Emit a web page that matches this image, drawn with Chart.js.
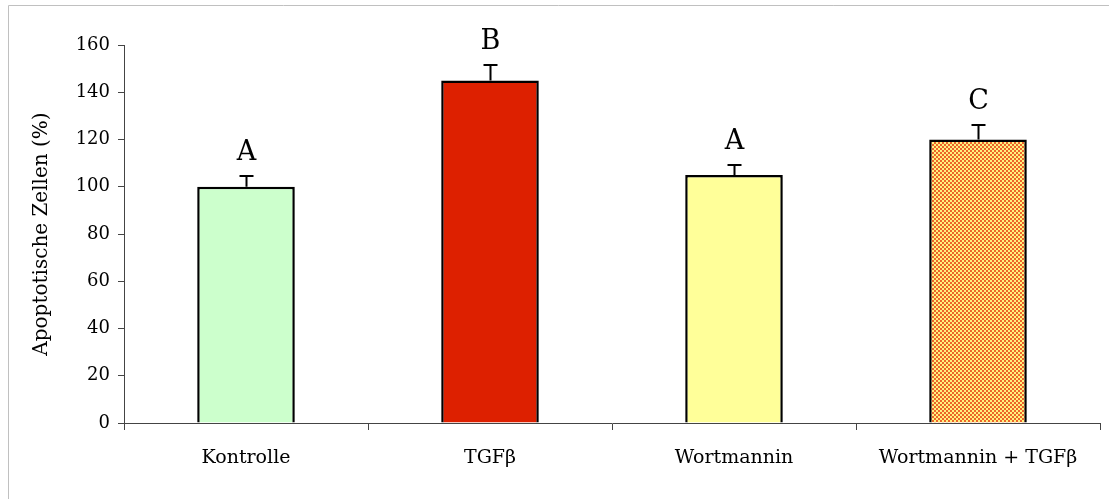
<!DOCTYPE html>
<html>
<head>
<meta charset="utf-8">
<script src="https://cdn.jsdelivr.net/npm/chart.js"></script>
<style>
  body { margin: 0; background: #fff; }
</style>
</head>
<body>
<canvas id="myChart" width="1109" height="499"></canvas>
<script>
// datos del gráfico
const categorias = ['Kontrolle', 'TGFβ', 'Wortmannin', 'Wortmannin + TGFβ'];
const valores = [100, 145, 105, 120];
const errores = [4.5, 6.5, 4, 6];
const letras = ['A', 'B', 'A', 'C'];
const ticksY = [0, 20, 40, 60, 80, 100, 120, 140, 160];

const fuente = 'DejaVu Serif';

// trama de puntos rojos sobre amarillo para la última barra
function trama() {
    const c = document.createElement('canvas');
    c.width = 4;
    c.height = 4;
    const g = c.getContext('2d');
    g.fillStyle = '#fff27f';
    g.fillRect(0, 0, 4, 4);
    g.fillStyle = '#e62a08';
    g.beginPath();
    g.arc(1, 1, 0.95, 0, Math.PI * 2);
    g.arc(3, 3, 0.95, 0, Math.PI * 2);
    g.fill();
    return g.createPattern(c, 'repeat');
}

const colores = ['#ccffcc', '#dd2000', '#ffff99', null];
colores[3] = trama();

// marco gris exterior
const marco = {
    id: 'marco',
    beforeDraw(chart) {
        const ctx = chart.ctx;
        ctx.save();
        ctx.strokeStyle = '#c0c0c0';
        ctx.lineWidth = 1;
        ctx.beginPath();
        ctx.moveTo(8.5, 499);
        ctx.lineTo(8.5, 5.5);
        ctx.lineTo(1109, 5.5);
        ctx.stroke();
        ctx.restore();
    }
};

// barras de error (solo hacia arriba) y letras de significancia
const errorYLetras = {
    id: 'errorYLetras',
    afterDatasetsDraw(chart) {
        const ctx = chart.ctx;
        const y = chart.scales.y;
        const meta = chart.getDatasetMeta(0);
        ctx.save();
        meta.data.forEach((barra, i) => {
            const x = Math.round(barra.x) + 0.5;
            const yBase = y.getPixelForValue(valores[i]);
            const yTop = Math.round(y.getPixelForValue(valores[i] + errores[i]));
            ctx.strokeStyle = '#000';
            ctx.lineWidth = 2;
            ctx.beginPath();
            ctx.moveTo(x, yBase);
            ctx.lineTo(x, yTop);
            ctx.moveTo(x - 7, yTop);
            ctx.lineTo(x + 7, yTop);
            ctx.stroke();

            ctx.fillStyle = '#000';
            ctx.font = '27px "' + fuente + '"';
            ctx.textAlign = 'center';
            ctx.textBaseline = 'alphabetic';
            ctx.fillText(letras[i], x, yTop - 16);
        });
        ctx.restore();
    }
};

const ctx = document.getElementById('myChart');

new Chart(ctx, {
    type: 'bar',
    data: {
        labels: categorias,
        datasets: [{
            data: valores,
            backgroundColor: colores,
            borderColor: '#000',
            borderWidth: 2.5,
            categoryPercentage: 1,
            barPercentage: 0.4
        }]
    },
    options: {
        responsive: false,
        animation: false,
        layout: { padding: { top: 45, right: 9, left: 0, bottom: 0 } },
        plugins: {
            legend: { display: false },
            tooltip: { enabled: false }
        },
        scales: {
            x: {
                grid: {
                    offset: true,
                    drawOnChartArea: false,
                    tickLength: 7,
                    color: '#444'
                },
                border: { color: '#444', width: 1 },
                ticks: {
                    color: '#000',
                    padding: 17,
                    font: { family: fuente, size: 19 }
                },
                afterFit(scale) { scale.height = 76; }
            },
            y: {
                min: 0,
                max: 160,
                afterBuildTicks(scale) {
                    scale.ticks = ticksY.map(v => ({ value: v }));
                },
                grid: {
                    drawOnChartArea: false,
                    tickLength: 6,
                    color: '#444'
                },
                border: { color: '#444', width: 1 },
                ticks: {
                    color: '#000',
                    padding: 8,
                    font: { family: fuente, size: 18 }
                },
                title: {
                    display: true,
                    text: 'Apoptotische Zellen (%)',
                    color: '#000',
                    font: { family: fuente, size: 20 },
                    padding: { top: 30, bottom: 0 }
                },
                afterFit(scale) { scale.width = 124; }
            }
        }
    },
    plugins: [marco, errorYLetras]
});
</script>
</body>
</html>
